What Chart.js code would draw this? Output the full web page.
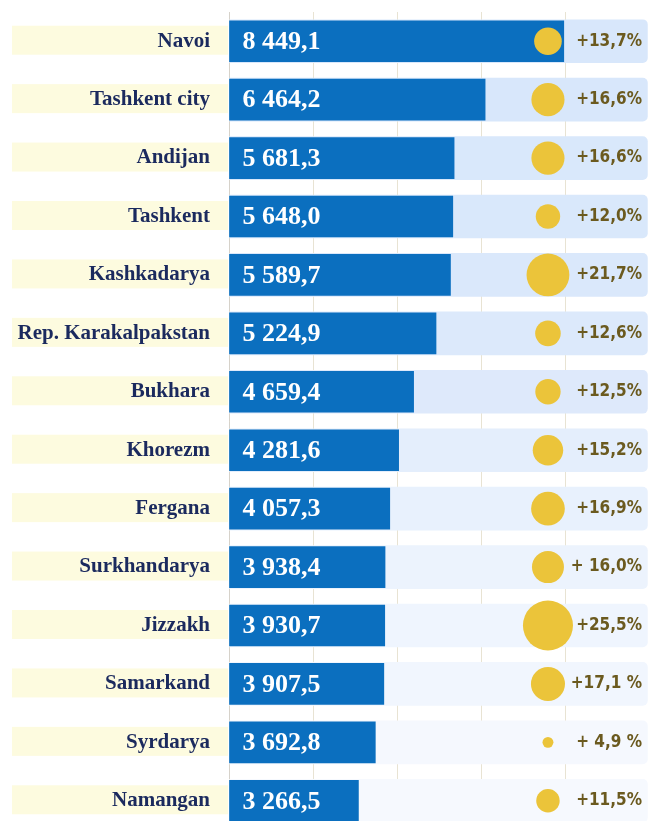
<!DOCTYPE html>
<html>
<head>
<meta charset="utf-8">
<script src="https://cdn.jsdelivr.net/npm/chart.js@4.4.1/dist/chart.umd.min.js"></script>
<style>
  html, body { margin: 0; padding: 0; background: #fff; overflow: hidden; }
  canvas { display: block; }
</style>
</head>
<body>
<canvas id="regionChart" width="649" height="830"></canvas>
<script>
const regions = ["Navoi", "Tashkent city", "Andijan", "Tashkent", "Kashkadarya", "Rep. Karakalpakstan",
  "Bukhara", "Khorezm", "Fergana", "Surkhandarya", "Jizzakh", "Samarkand", "Syrdarya", "Namangan"];
const output = [8449.1, 6464.2, 5681.3, 5648.0, 5589.7, 5224.9, 4659.4, 4281.6, 4057.3, 3938.4, 3930.7, 3907.5, 3692.8, 3266.5];
const growth = [13.7, 16.6, 16.6, 12.0, 21.7, 12.6, 12.5, 15.2, 16.9, 16.0, 25.5, 17.1, 4.9, 11.5];
const growthLabels = ["+13,7%", "+16,6%", "+16,6%", "+12,0%", "+21,7%", "+12,6%", "+12,5%", "+15,2%",
  "+16,9%", "+ 16,0%", "+25,5%", "+17,1 %", "+ 4,9 %", "+11,5%"];

const axisMax = 10600;
const bubbleX = 8050;

// track colours fade out going down
const trackColors = ["#d8e7fb", "#d8e7fb", "#d9e8fb", "#d9e8fb", "#dae8fb", "#dce9fb", "#dee9fb",
  "#e4eefc", "#e8f1fd", "#ecf3fd", "#eff5fe", "#f1f6fe", "#f5f8fe", "#f6f9fe"];

function fmt(v) {
  let parts = v.toFixed(1).split(".");
  return parts[0].replace(/\B(?=(\d{3})+(?!\d))/g, " ") + "," + parts[1];
}

// bubble radius in px from growth %
function bubbleRadius(v) {
  return v * 0.95 + 0.8;
}

const labelBands = {
  id: "labelBands",
  beforeDraw(chart) {
    const ctx = chart.ctx;
    const y = chart.scales.y;
    ctx.save();
    ctx.fillStyle = "#fdfbdf";
    regions.forEach((r, i) => {
      const cy = y.getPixelForValue(i);
      ctx.fillRect(12, cy - 15.5, chart.chartArea.left - 13, 29);
    });
    ctx.restore();
  },
};

const valueLabels = {
  id: "valueLabels",
  afterDatasetsDraw(chart) {
    const ctx = chart.ctx;
    const bars = chart.getDatasetMeta(0).data;
    ctx.save();
    ctx.textBaseline = "middle";
    bars.forEach((bar, i) => {
      ctx.font = "bold 26px 'Liberation Serif', 'Times New Roman', serif";
      ctx.fillStyle = "#ffffff";
      ctx.textAlign = "left";
      ctx.fillText(fmt(output[i]), bar.base + 13, bar.y + 1);

      ctx.font = "bold 17px 'DejaVu Sans Condensed', 'DejaVu Sans', sans-serif";
      ctx.fillStyle = "#6b5a1f";
      ctx.textAlign = "right";
      ctx.fillText(growthLabels[i], 642, bar.y);
    });
    ctx.restore();
  },
};

const ctx = document.getElementById("regionChart").getContext("2d");

let chart = new Chart(ctx, {
  type: "bar",
  data: {
    labels: regions,
    datasets: [
      {
        label: "Output",
        data: output,
        backgroundColor: "#0b6fbf",
        barThickness: 41,
        grouped: false,
        order: 1,
      },
      {
        label: "Track",
        data: regions.map(() => axisMax - 40),
        backgroundColor: trackColors,
        borderRadius: { topRight: 5, bottomRight: 5 },
        borderSkipped: "start",
        barThickness: 43,
        grouped: false,
        order: 2,
      },
      {
        type: "bubble",
        label: "Growth",
        data: regions.map((r, i) => ({ x: bubbleX, y: r, r: bubbleRadius(growth[i]) })),
        backgroundColor: "#ebc43a",
        borderWidth: 0,
        order: 0,
      },
    ],
  },
  options: {
    indexAxis: "y",
    responsive: false,
    animation: false,
    layout: { autoPadding: false, padding: { top: 12, right: 0, bottom: 0, left: 0 } },
    plugins: {
      legend: { display: false },
      tooltip: { enabled: false },
    },
    scales: {
      x: {
        type: "linear",
        min: 0,
        max: axisMax,
        ticks: { display: false, stepSize: 2000 },
        grid: { color: "#e8e3d3", drawTicks: false },
        border: { display: false },
        afterFit(scale) {
          scale.height = 0;
          scale.paddingLeft = 0;
          scale.paddingRight = 0;
        },
      },
      y: {
        type: "category",
        offset: true,
        ticks: {
          color: "#1b2a5e",
          padding: 19,
          font: { family: "'Liberation Serif', 'Times New Roman', serif", size: 21, weight: "bold" },
        },
        grid: { display: false, drawTicks: false },
        border: { color: "#d6d2ca" },
        afterFit(scale) {
          scale.width = 229;
          scale.paddingTop = 0;
          scale.paddingBottom = 0;
        },
      },
    },
  },
  plugins: [labelBands, valueLabels],
});
</script>
</body>
</html>
